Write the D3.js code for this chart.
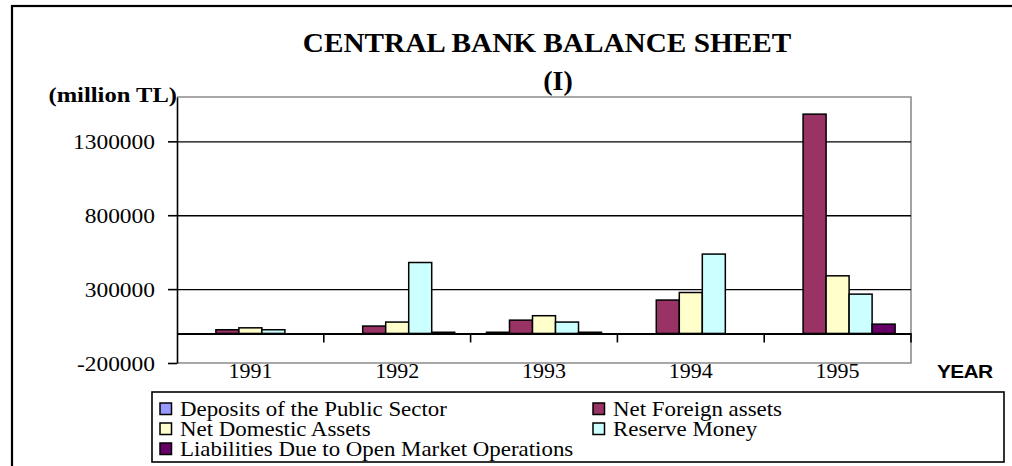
<!DOCTYPE html>
<html>
<head>
<meta charset="utf-8">
<script src="https://cdn.jsdelivr.net/npm/d3@7"></script>
<style>
  html, body { margin: 0; padding: 0; background: #fff; }
  svg { display: block; }
</style>
</head>
<body>
<svg id="chart" width="1012" height="466"></svg>
<script>
// ---- data ----
const years = ["1991", "1992", "1993", "1994", "1995"];
const seriesNames = [
  "Deposits of the Public Sector",
  "Net Foreign assets",
  "Net Domestic Assets",
  "Reserve Money",
  "Liabilities Due to Open Market Operations"
];
const depositsPublic = [0, 0, 8000, 0, 0];
const netForeign = [25000, 50000, 90000, 226000, 1484000];
const netDomestic = [38000, 77000, 120000, 277000, 390000];
const reserveMoney = [25000, 480000, 77000, 537000, 266000];
const liabilitiesOMO = [0, 8000, 8000, 0, 63000];
const yTicks = [-200000, 300000, 800000, 1300000];
const gridValues = [300000, 800000, 1300000];
const colors = ["#9999FF", "#993366", "#FFFFCC", "#CCFFFF", "#660066"];

const seriesValues = [depositsPublic, netForeign, netDomestic, reserveMoney, liabilitiesOMO];

// ---- layout ----
const svg = d3.select("#chart");
const L = 177, R = 911, T = 97, B = 363;
const serif = "'Liberation Serif', 'Times New Roman', serif";
const sans = "'Liberation Sans', Arial, sans-serif";

function stretch(sel, sx) {
  sel.each(function () {
    const ax = +this.getAttribute("x") || 0;
    this.setAttribute("transform", `translate(${ax * (1 - sx)},0) scale(${sx},1)`);
  });
}

const x0 = d3.scaleBand().domain(years).range([L, R]).padding(0);
const x1 = d3.scaleBand().domain(d3.range(seriesNames.length))
  .range([0, x0.bandwidth()]).paddingInner(0).paddingOuter(0.69);
const y = d3.scaleLinear().domain([-200000, 1600000]).range([B, T]);

// outer border
svg.append("rect").attr("x", 12).attr("y", 6).attr("width", 1012).attr("height", 480)
  .attr("fill", "#fff").attr("stroke", "#000").attr("stroke-width", 2.2);

// plot border (gray)
svg.append("path")
  .attr("d", `M${L},${T}H${R}V${B}H${L}`)
  .attr("fill", "none").attr("stroke", "#8c8c8c").attr("stroke-width", 1.6);

// gridlines
const grid = svg.append("g").attr("transform", `translate(${L},0)`)
  .call(d3.axisLeft(y).tickValues(gridValues).tickSize(-(R - L)).tickFormat(""));
grid.select(".domain").remove();
grid.selectAll("line").attr("stroke", "#000").attr("stroke-width", 1.4);

// y axis
const yAxis = svg.append("g").attr("transform", `translate(${L},0)`)
  .call(d3.axisLeft(y).tickValues(yTicks).tickSize(9).tickSizeOuter(0).tickFormat(d => String(d)));
yAxis.select(".domain").attr("stroke", "#000").attr("stroke-width", 1.6);
yAxis.selectAll(".tick line").attr("stroke", "#000").attr("stroke-width", 1.6);
yAxis.selectAll(".tick text")
  .attr("x", -22).attr("dy", "0.34em")
  .attr("font-family", serif).attr("font-size", 22).attr("fill", "#000")
  .call(stretch, 1.065);

// bars
const groups = svg.append("g").selectAll("g").data(years).join("g")
  .attr("transform", d => `translate(${x0(d)},0)`);
groups.selectAll("rect")
  .data((d, i) => seriesValues.map((vals, s) => ({ s, v: vals[i] })))
  .join("rect")
  .attr("x", d => x1(d.s))
  .attr("width", x1.bandwidth())
  .attr("y", d => y(Math.max(0, d.v)))
  .attr("height", d => Math.abs(y(d.v) - y(0)))
  .attr("fill", d => colors[d.s])
  .attr("stroke", "#000").attr("stroke-width", 1.5);

// category axis at zero
const xAxis = svg.append("g").attr("transform", `translate(0,${y(0)})`)
  .call(d3.axisBottom(x0).tickSize(0).tickSizeOuter(0));
xAxis.select(".domain").attr("stroke", "#000").attr("stroke-width", 2);
xAxis.selectAll(".tick text")
  .attr("y", 378 - y(0)).attr("dy", 0)
  .attr("font-family", serif).attr("font-size", 22).attr("fill", "#000")
  .call(stretch, 1.0);
// boundary tick marks
svg.append("g").selectAll("line").data(years).join("line")
  .attr("x1", d => x0(d) + x0.bandwidth()).attr("x2", d => x0(d) + x0.bandwidth())
  .attr("y1", y(0)).attr("y2", y(0) + 9)
  .attr("stroke", "#000").attr("stroke-width", 1.6);

// titles
svg.append("text").attr("x", 547).attr("y", 52).attr("text-anchor", "middle")
  .attr("font-family", serif).attr("font-weight", "bold").attr("font-size", 28)
  .text("CENTRAL BANK BALANCE SHEET").call(stretch, 1.045);
svg.append("text").attr("x", 558).attr("y", 90).attr("text-anchor", "middle")
  .attr("font-family", serif).attr("font-weight", "bold").attr("font-size", 28)
  .text("(I)");
svg.append("text").attr("x", 177).attr("y", 102).attr("text-anchor", "end")
  .attr("font-family", serif).attr("font-weight", "bold").attr("font-size", 22)
  .text("(million TL)").call(stretch, 1.117);
svg.append("text").attr("x", 937).attr("y", 378).attr("text-anchor", "start")
  .attr("font-family", sans).attr("font-weight", "bold").attr("font-size", 19)
  .attr("letter-spacing", -0.6)
  .text("YEAR").call(stretch, 1.1);

// legend
svg.append("rect").attr("x", 152).attr("y", 392).attr("width", 852).attr("height", 70)
  .attr("fill", "#fff").attr("stroke", "#000").attr("stroke-width", 1.6);
const legendPos = [
  { cx: 160, row: 0 }, { cx: 593, row: 0 },
  { cx: 160, row: 1 }, { cx: 593, row: 1 },
  { cx: 160, row: 2 }
];
const legend = svg.append("g").selectAll("g").data(seriesNames).join("g")
  .attr("transform", (d, i) => `translate(${legendPos[i].cx},${403 + legendPos[i].row * 20})`);
legend.append("rect").attr("x", 0).attr("y", 0).attr("width", 11.5).attr("height", 11.5)
  .attr("fill", (d, i) => colors[i]).attr("stroke", "#000").attr("stroke-width", 1.5);
legend.append("text").attr("x", 20).attr("y", 12.5)
  .attr("font-family", serif).attr("font-size", 20.5).attr("fill", "#000")
  .text(d => d).call(stretch, 1.116);
</script>
</body>
</html>
